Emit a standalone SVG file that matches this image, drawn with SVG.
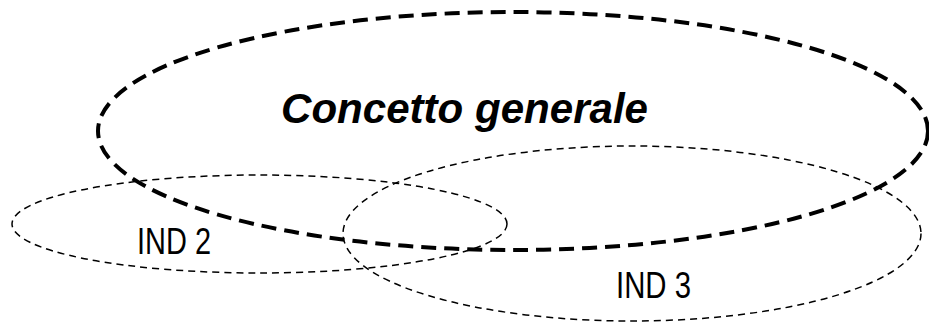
<svg xmlns="http://www.w3.org/2000/svg" width="929" height="325" viewBox="0 0 929 325">
<style>
.big{fill:none;stroke:#000;stroke-width:4;stroke-dasharray:15 8}
.small{fill:none;stroke:#000;stroke-width:1.5;stroke-dasharray:7 5}
.title{font-family:"Liberation Sans",Arial,sans-serif;font-weight:bold;font-style:italic;font-size:42px;fill:#000}
.lbl{font-family:"Liberation Sans",Arial,sans-serif;font-size:36px;fill:#000}
</style>
<rect width="929" height="325" fill="#fff"/>
<g id="concetto">
<ellipse class="big" cx="513" cy="131" rx="415" ry="119"/>
<text class="title" x="281" y="123" textLength="367" lengthAdjust="spacingAndGlyphs">Concetto generale</text>
</g>
<g id="ind2">
<ellipse class="small" cx="259.5" cy="224" rx="247.5" ry="49"/>
<text class="lbl" x="137" y="254" textLength="74" lengthAdjust="spacingAndGlyphs">IND 2</text>
</g>
<g id="ind3">
<ellipse class="small" cx="632" cy="233.5" rx="289" ry="87.5"/>
<text class="lbl" x="616" y="298" textLength="75" lengthAdjust="spacingAndGlyphs">IND 3</text>
</g>
<g id="connectors"/>
</svg>
